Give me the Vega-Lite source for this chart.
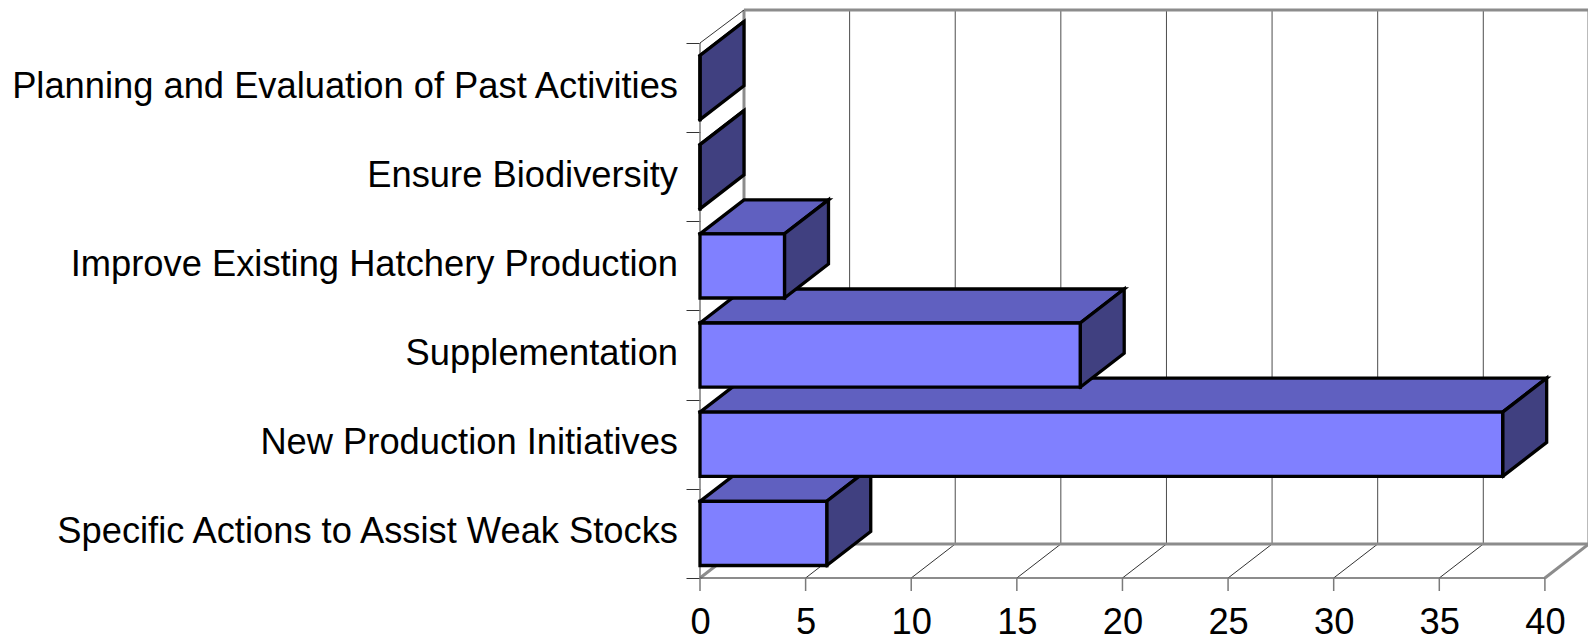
{
  "$schema": "https://vega.github.io/schema/vega-lite/v6.json",
  "width": 888,
  "height": 568,
  "autosize": "none",
  "padding": {"left": 700, "top": 10, "right": 0, "bottom": 62},
  "background": "white",
  "config": {"view": {"stroke": null}, "font": "Liberation Sans"},
  "datasets": {
    "activities": [
      {"activity": "Specific Actions to Assist Weak Stocks", "projects": 6, "rank": 0},
      {"activity": "New Production Initiatives", "projects": 38, "rank": 1},
      {"activity": "Supplementation", "projects": 18, "rank": 2},
      {"activity": "Improve Existing Hatchery Production", "projects": 4, "rank": 3},
      {"activity": "Ensure Biodiversity", "projects": 0, "rank": 4},
      {"activity": "Planning and Evaluation of Past Activities", "projects": 0, "rank": 5}
    ],
    "ticks": [
      {"tick": 0}, {"tick": 5}, {"tick": 10}, {"tick": 15}, {"tick": 20},
      {"tick": 25}, {"tick": 30}, {"tick": 35}, {"tick": 40}
    ],
    "frame": [{"part": "wall"}]
  },
  "layer": [
    {
      "data": {"name": "ticks"},
      "transform": [{"calculate": "datum.tick + 2.083", "as": "backTick"}],
      "mark": {"type": "rule"},
      "encoding": {
        "x": {
          "field": "backTick",
          "type": "quantitative",
          "scale": {"domain": [0, 42.04], "nice": false, "zero": false},
          "axis": {
            "values": [0, 5, 10, 15, 20, 25, 30, 35, 40],
            "title": null,
            "domain": false,
            "grid": false,
            "ticks": false,
            "labelFontSize": 36.3,
            "labelColor": "black",
            "labelPadding": 26,
            "labelFlush": false,
            "labelOverlap": false
          }
        },
        "y": {
          "datum": 0.381,
          "type": "quantitative",
          "scale": {"domain": [0, 6.37], "nice": false},
          "axis": {
            "values": [0, 1, 2, 3, 4, 5, 6],
            "title": null,
            "domain": false,
            "grid": false,
            "labels": false,
            "ticks": true,
            "tickSize": 14,
            "tickColor": "#333333",
            "tickWidth": 1
          }
        },
        "y2": {"datum": 6.37},
        "stroke": {"condition": {"test": "datum.tick === 0 || datum.tick === 40", "value": "#8c8c8c"}, "value": "#4d4d4d"},
        "strokeWidth": {"condition": {"test": "datum.tick === 0 || datum.tick === 40", "value": 3}, "value": 1}
      }
    },
    {
      "data": {"name": "ticks"},
      "transform": [{"calculate": "datum.tick + 2.083", "as": "backTick"}],
      "mark": {"type": "rule"},
      "encoding": {
        "x": {"field": "tick", "type": "quantitative"},
        "x2": {"field": "backTick"},
        "y": {"datum": 0, "type": "quantitative"},
        "y2": {"datum": 0.381},
        "stroke": {"condition": {"test": "datum.tick === 0 || datum.tick === 40", "value": "#8c8c8c"}, "value": "#333333"},
        "strokeWidth": {"condition": {"test": "datum.tick === 0 || datum.tick === 40", "value": 3}, "value": 1}
      }
    },
    {
      "data": {"name": "frame"},
      "mark": {"type": "rule", "stroke": "#8c8c8c", "strokeWidth": 3},
      "encoding": {
        "x": {"datum": 2.083, "type": "quantitative"},
        "x2": {"datum": 42.04},
        "y": {"datum": 6.37, "type": "quantitative"}
      }
    },
    {
      "data": {"name": "frame"},
      "mark": {"type": "rule", "stroke": "#8c8c8c", "strokeWidth": 3},
      "encoding": {
        "x": {"datum": 2.083, "type": "quantitative"},
        "x2": {"datum": 42.04},
        "y": {"datum": 0.381, "type": "quantitative"}
      }
    },
    {
      "data": {"name": "frame"},
      "mark": {"type": "rule", "stroke": "#333333", "strokeWidth": 1},
      "encoding": {
        "x": {"datum": 0, "type": "quantitative"},
        "x2": {"datum": 2.083},
        "y": {"datum": 6, "type": "quantitative"},
        "y2": {"datum": 6.37}
      }
    },
    {
      "data": {"name": "frame"},
      "mark": {"type": "rule", "stroke": "#7a7a7a", "strokeWidth": 1.5},
      "encoding": {
        "x": {"datum": 0, "type": "quantitative"},
        "y": {"datum": 0, "type": "quantitative"},
        "y2": {"datum": 6}
      }
    },
    {
      "data": {"name": "frame"},
      "mark": {"type": "rule", "stroke": "#666666", "strokeWidth": 1.5},
      "encoding": {
        "x": {"datum": 0, "type": "quantitative"},
        "x2": {"datum": 40},
        "y": {"datum": 0, "type": "quantitative"}
      }
    },
    {
      "data": {"name": "ticks"},
      "mark": {"type": "rule", "stroke": "#7a7a7a", "strokeWidth": 1.5},
      "encoding": {
        "x": {"field": "tick", "type": "quantitative"},
        "y": {"datum": 0, "type": "quantitative"},
        "y2": {"value": 581}
      }
    },
    {
      "data": {"name": "activities"},
      "transform": [
        {"calculate": "['top', 'side', 'front']", "as": "face"},
        {"flatten": ["face"]},
        {"calculate": "[0, 1, 2, 3, 4]", "as": "corner"},
        {"flatten": ["corner"]},
        {"calculate": "datum.rank + 0.14", "as": "lower"},
        {"calculate": "datum.rank + 0.86", "as": "upper"},
        {"calculate": "datum.activity + '/' + datum.face", "as": "faceKey"},
        {
          "calculate": "datum.face === 'front' ? [0, datum.projects, datum.projects, 0, 0][datum.corner] : datum.face === 'top' ? [0, datum.projects, datum.projects + 2.083, 2.083, 0][datum.corner] : [datum.projects, datum.projects + 2.083, datum.projects + 2.083, datum.projects, datum.projects][datum.corner]",
          "as": "px"
        },
        {
          "calculate": "datum.face === 'front' ? [datum.lower, datum.lower, datum.upper, datum.upper, datum.lower][datum.corner] : datum.face === 'top' ? [datum.upper, datum.upper, datum.upper + 0.381, datum.upper + 0.381, datum.upper][datum.corner] : [datum.lower, datum.lower + 0.381, datum.upper + 0.381, datum.upper, datum.lower][datum.corner]",
          "as": "py"
        }
      ],
      "mark": {"type": "line", "stroke": "black", "strokeWidth": 3.3, "strokeJoin": "miter", "strokeCap": "square", "clip": false},
      "encoding": {
        "x": {"field": "px", "type": "quantitative"},
        "y": {"field": "py", "type": "quantitative"},
        "detail": {"field": "faceKey"},
        "order": {"field": "corner"},
        "fill": {
          "field": "face",
          "type": "nominal",
          "scale": {"domain": ["front", "top", "side"], "range": ["#8080ff", "#6060c0", "#404080"]},
          "legend": null
        }
      }
    },
    {
      "data": {"name": "activities"},
      "transform": [{"calculate": "datum.rank + 0.5", "as": "slotCentre"}],
      "mark": {"type": "text", "align": "right", "baseline": "middle", "fontSize": 36.3, "xOffset": -22, "yOffset": -1, "color": "black"},
      "encoding": {
        "x": {"datum": 0, "type": "quantitative"},
        "y": {"field": "slotCentre", "type": "quantitative"},
        "text": {"field": "activity"}
      }
    }
  ]
}
